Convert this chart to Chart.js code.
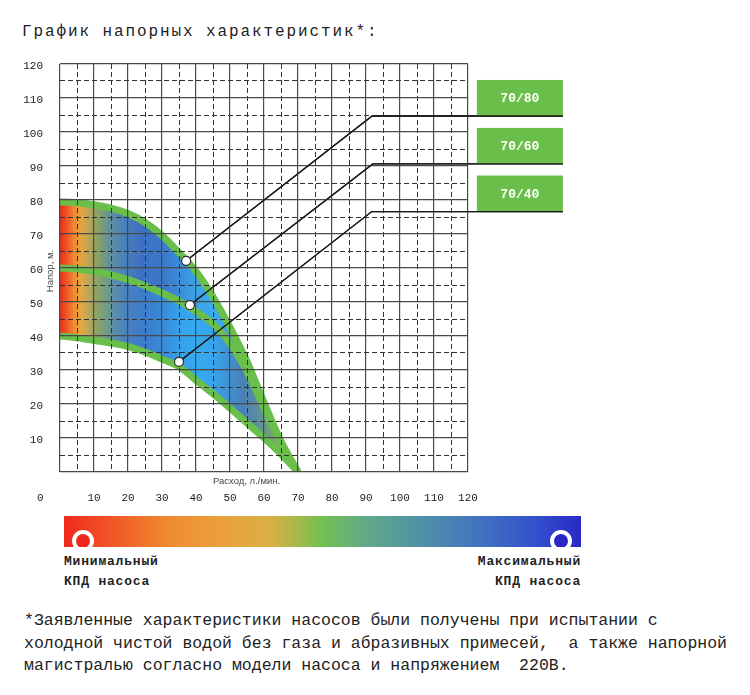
<!DOCTYPE html>
<html lang="ru">
<head>
<meta charset="utf-8">
<title>График напорных характеристик</title>
<script src="https://cdn.jsdelivr.net/npm/chart.js@4.4.1/dist/chart.umd.min.js"></script>
<style>
  html, body { margin: 0; padding: 0; background: #fff; }
  body { width: 750px; height: 695px; position: relative; overflow: hidden;
         font-family: "Liberation Mono", monospace; color: #222; }
  #title { position: absolute; left: 22px; top: 23px; font-size: 16px; line-height: 18px;
           letter-spacing: 1.9px; white-space: pre; }
  #chartBox { position: absolute; left: 0; top: 0; width: 750px; height: 510px; }
  #scaleBar { position: absolute; left: 64px; top: 516px; width: 517px; height: 31px; overflow: hidden;
              background: linear-gradient(to right, #f02a1e 0%, #f05a26 10%, #f08a30 20%, #eba03c 30%,
                #d8b044 40%, #a8b84a 45%, #72c052 50%, #62aa86 58%, #5294a4 68%, #4274bf 80%,
                #3352cc 91%, #2a2ac6 100%); }
  .dot { position: absolute; top: 14px; width: 14px; height: 14px; border-radius: 50%;
         border: 4.5px solid #fff; }
  .kpd { position: absolute; top: 552px; font-size: 13px; line-height: 20px; letter-spacing: 0.8px;
         font-weight: bold; white-space: pre; }
  #note { position: absolute; left: 24px; top: 610px; font-size: 16.5px; line-height: 22.5px;
          white-space: pre; }
</style>
</head>
<body>
<div id="title">График напорных характеристик*:</div>
<div id="chartBox"><canvas id="headChart"></canvas></div>
<div id="scaleBar">
  <div class="dot" style="left:8px;background:#f0281c"></div>
  <div class="dot" style="left:486px;background:#2a26c8"></div>
</div>
<div class="kpd" style="left:64px">Минимальный
КПД насоса</div>
<div class="kpd" style="right:169px;text-align:right">Максимальный
КПД насоса</div>
<div id="note">*Заявленные характеристики насосов были получены при испытании с
холодной чистой водой без газа и абразивных примесей,  а также напорной
магистралью согласно модели насоса и напряжением  220В.</div>

<script>
// flow, l/min
const flow = [0, 5, 10, 15, 20, 25, 30, 35, 40, 45, 50, 55, 60, 65, 70];
// head, m, one list per pump model
const head7080 = [79.5, 79.2, 78.6, 77.6, 76, 73.4, 69.6, 64.5, 59, 51.5, 42.5, 32.5, 20.5, 9, 0];
const head7060 = [60, 59.7, 59, 58, 56.6, 54.8, 52.7, 50.3, 47.2, 43.6, 37.8, 29.5, 19, 8.5, 0];
const head7040 = [40, 39.5, 38.7, 37.9, 36.9, 35.3, 33.2, 31, 27, 23, 18.8, 14.4, 10, 5.3, 0];
const models = ['70/80', '70/60', '70/40'];

// marker on each curve where the callout starts
const markerFlow = [37.1, 38.2, 35];
const markerHead = [62.1, 49.1, 32.4];

const xTickLabels = [0, 10, 20, 30, 40, 50, 60, 70, 80, 90, 100, 110, 120];
const yTickLabels = [10, 20, 30, 40, 50, 60, 70, 80, 90, 100, 110, 120];

// callout geometry (axis units)
const leaderKneeFlow = [91.8, 92, 91.7];
const leaderHead = [104.7, 90.6, 76.6];
const boxFlow = [122.6, 147.9];
const boxSpan = 10.6;

const GREEN = '#6abf4b';

// efficiency colouring of the working zone, left to right
const upperStops = [[0, '#e92d1f'], [2, '#ef5326'], [4, '#f0862f'], [6, '#e9a23d'], [8, '#c6a653'],
  [10, '#9ea35f'], [12, '#7c9f70'], [15, '#5f8fa2'], [19, '#4a7fbb'], [24, '#3d70c2'], [30, '#3b78cb'],
  [35, '#3a8bd8'], [40, '#3ca4e6'], [45, '#3aacef'], [50, '#40a0e0'], [55, '#4f88b8'], [60, '#5e98a0'],
  [64, '#7fae5e'], [66, '#d67a38'], [68, '#e46e2e'], [70, GREEN]];
const lowerStops = [[0, '#ea2e1f'], [2, '#ef5526'], [4, '#f08a30'], [6, '#e8a63f'], [8, '#c4a855'],
  [10, '#9aa462'], [13, '#76a07a'], [16, '#5a8eaa'], [20, '#4880c2'], [25, '#3c7ccb'], [30, '#3a8ad8'],
  [35, '#37a0e8'], [40, '#34aaf0'], [45, '#38a4ea'], [50, '#3f90d2'], [54, '#4a80b4'], [58, '#5a8ea2'],
  [62, '#6fa27a'], [65, '#8fb058'], [66.5, '#e0782f'], [68, '#e66a2a'], [70, GREEN]];

function zoneGradient(chart, stops) {
  const x = chart.scales.x;
  if (!chart.chartArea || !x) return 'rgba(0,0,0,0)';
  const x0 = x.getPixelForValue(0);
  const x1 = x.getPixelForValue(70);
  const g = chart.ctx.createLinearGradient(x0, 0, x1, 0);
  stops.forEach(function (s) { g.addColorStop(s[0] / 70, s[1]); });
  return g;
}

const isMajor = (v) => v % 10 === 0;
const gridColor = (c) => isMajor(c.tick.value) ? '#4a4a4a' : '#333';
const gridWidth = (c) => isMajor(c.tick.value) ? 1.2 : 1;
const gridDash = (c) => (c.tick && !isMajor(c.tick.value)) ? [5, 3] : [];

const curves = [head7080, head7060, head7040];
const curveSets = curves.map(function (h, i) {
  return {
    label: models[i],
    data: flow.map((q, k) => ({ x: q, y: h[k] })),
    borderColor: GREEN,
    borderWidth: 7,
    pointRadius: 0,
    pointBackgroundColor: 'transparent',
    cubicInterpolationMode: 'monotone',
    fill: i < 2 ? i + 1 : false,
    backgroundColor: i < 2 ? (c) => zoneGradient(c.chart, i === 0 ? upperStops : lowerStops) : 'transparent'
  };
});
const leaderSets = models.map(function (name, i) {
  return {
    label: name + ' callout',
    isLeader: true,
    data: [
      { x: markerFlow[i], y: markerHead[i] },
      { x: leaderKneeFlow[i], y: leaderHead[i] },
      { x: boxFlow[1], y: leaderHead[i] }
    ],
    borderColor: '#1a1a1a',
    borderWidth: 1.3,
    tension: 0,
    fill: false,
    clip: false,
    pointRadius: [4.5, 0, 0],
    pointBackgroundColor: '#fff',
    pointBorderColor: '#333',
    pointBorderWidth: 1.2
  };
});

// callout boxes, axis captions, and the leaders redrawn above the grid
const calloutPlugin = {
  id: 'callouts',
  afterDraw(chart) {
    const { ctx, chartArea } = chart;
    const x = chart.scales.x, y = chart.scales.y;
    ctx.save();
    models.forEach(function (name, i) {
      const left = x.getPixelForValue(boxFlow[0]);
      const right = x.getPixelForValue(boxFlow[1]);
      const bottom = y.getPixelForValue(leaderHead[i]);
      const top = y.getPixelForValue(leaderHead[i] + boxSpan);
      ctx.fillStyle = GREEN;
      ctx.fillRect(left, top, right - left, bottom - top);
      ctx.fillStyle = '#fff';
      ctx.font = 'bold 13px "Liberation Mono", monospace';
      ctx.textAlign = 'center';
      ctx.textBaseline = 'middle';
      ctx.fillText(name, (left + right) / 2, (top + bottom) / 2 + 1);
    });
    ctx.restore();

    chart.data.datasets.forEach(function (ds, i) {
      if (ds.isLeader) chart.getDatasetMeta(i).controller.draw();
    });

    ctx.save();
    ctx.fillStyle = '#444';
    ctx.font = '9.5px "Liberation Sans", sans-serif';
    ctx.textBaseline = 'middle';
    ctx.textAlign = 'left';
    ctx.fillText('Расход, л./мин.', x.getPixelForValue(45), chartArea.bottom + 9);
    ctx.translate(chartArea.left - 10, y.getPixelForValue(59.1));
    ctx.rotate(-Math.PI / 2);
    ctx.textAlign = 'center';
    ctx.fillText('Напор, м.', 0, 0);
    ctx.restore();
  }
};

const tickFont = { family: '"Liberation Mono", monospace', size: 11 };

new Chart(document.getElementById('headChart'), {
  type: 'line',
  data: { datasets: curveSets.concat(leaderSets) },
  options: {
    responsive: true,
    maintainAspectRatio: false,
    animation: false,
    events: [],
    layout: { padding: { top: 64, right: 282, bottom: 0, left: 0 } },
    plugins: {
      legend: { display: false },
      tooltip: { enabled: false },
      filler: { drawTime: 'beforeDatasetsDraw' }
    },
    scales: {
      x: {
        type: 'linear',
        min: 0,
        max: 120,
        afterFit: (s) => { s.height = 38; },
        ticks: {
          stepSize: 5,
          maxTicksLimit: 100,
          autoSkip: false,
          maxRotation: 0,
          padding: 19,
          color: '#222',
          font: tickFont,
          callback: (v) => xTickLabels.includes(v) ? (v === 0 ? '0      ' : String(v)) : ''
        },
        grid: { z: 1, drawTicks: false, color: gridColor, lineWidth: gridWidth },
        border: { display: false, dash: gridDash }
      },
      y: {
        type: 'linear',
        min: 0,
        max: 120,
        afterFit: (s) => { s.width = 60; },
        ticks: {
          stepSize: 5,
          maxTicksLimit: 100,
          autoSkip: false,
          padding: 17,
          labelOffset: 2.5,
          color: '#222',
          font: tickFont,
          callback: (v) => yTickLabels.includes(v) ? String(v) : ''
        },
        grid: { z: 1, drawTicks: false, color: gridColor, lineWidth: gridWidth },
        border: { display: false, dash: gridDash }
      }
    }
  },
  plugins: [calloutPlugin]
});
</script>
</body>
</html>
